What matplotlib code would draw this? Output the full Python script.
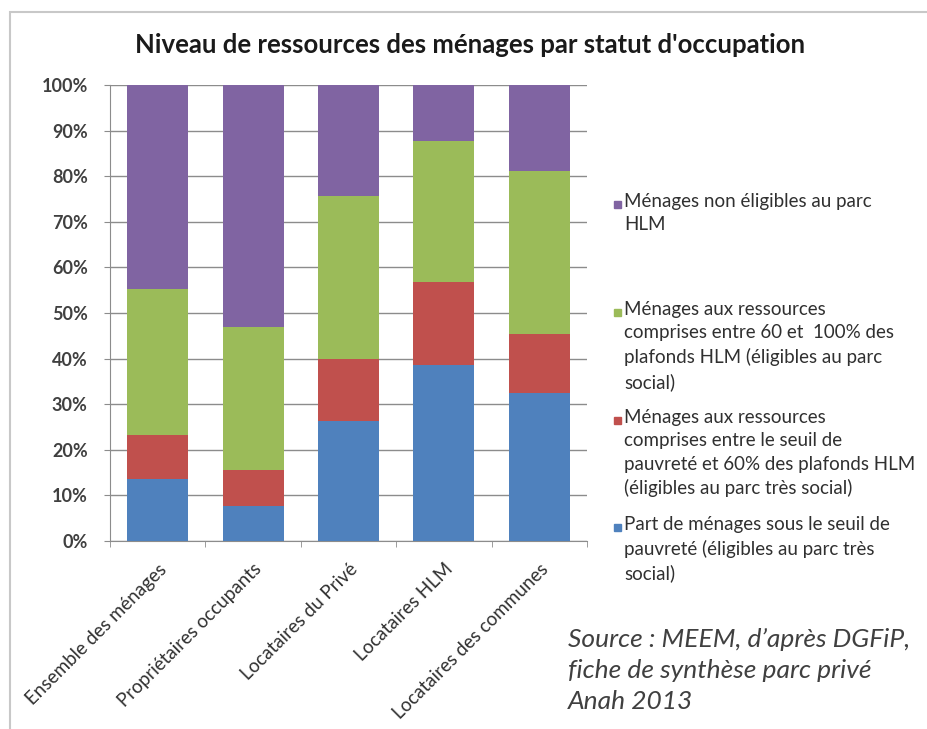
import matplotlib
matplotlib.use("Agg")
import matplotlib.pyplot as plt
import matplotlib.patches as patches
import numpy as np

plt.rcParams['font.family'] = ['Lato', 'DejaVu Sans']

# data (shares in %)
categories = ["Ensemble des ménages", "Propriétaires occupants", "Locataires du Privé",
              "Locataires HLM", "Locataires des communes"]
sous_seuil = [13.5, 7.7, 26.3, 38.6, 32.5]
seuil_60 = [9.8, 7.8, 13.7, 18.2, 12.8]
entre_60_100 = [31.9, 31.5, 35.7, 30.9, 35.8]
non_eligibles = [44.8, 53.0, 24.3, 12.3, 18.9]

series_labels = [
    "Part de ménages sous le seuil de\npauvreté (éligibles au parc très\nsocial)",
    "Ménages aux ressources\ncomprises entre le seuil de\npauvreté et 60% des plafonds HLM\n(éligibles au parc très social)",
    "Ménages aux ressources\ncomprises entre 60 et  100% des\nplafonds HLM (éligibles au parc\nsocial)",
    "Ménages non éligibles au parc\nHLM",
]
colors = ["#4F81BD", "#C0504D", "#9BBB59", "#8064A2"]

W, H = 928, 729
fig = plt.figure(figsize=(W / 100, H / 100), dpi=100)
fig.patch.set_facecolor("white")

# outer chart frame (clipped at right and bottom like the screenshot)
fig.add_artist(patches.Rectangle((10 / W, -0.05), 1.1, 1 - 12 / H + 0.05,
                                 transform=fig.transFigure, fill=False,
                                 edgecolor="#C8C8C8", lw=1.5))

ax = fig.add_axes([110 / W, 1 - 541 / H, 477 / W, 456 / H])

x = np.arange(len(categories))
bottom = np.zeros(len(categories))
for vals, col in zip([sous_seuil, seuil_60, entre_60_100, non_eligibles], colors):
    ax.bar(x, vals, bottom=bottom, width=0.64, color=col, zorder=3)
    bottom += np.array(vals)

ax.set_xlim(-0.5, len(categories) - 0.5)
ax.set_ylim(0, 100)
ax.set_yticks(np.arange(0, 101, 10))
ax.set_yticklabels([f"{v}%" for v in range(0, 101, 10)], fontsize=13,
                   fontweight="bold", color="#404040")
ax.yaxis.grid(True, color="#8C8C8C", lw=1, zorder=0)
ax.tick_params(axis="y", length=4, color="#8C8C8C", pad=12)

ax.set_xticks(x)
ax.set_xticklabels(categories, rotation=45, ha="right", rotation_mode="anchor",
                   fontsize=13.5, color="#303030")
ax.tick_params(axis="x", length=0, pad=14)
ax.set_xticks(np.arange(-0.5, len(categories), 1), minor=True)
ax.tick_params(axis="x", which="minor", length=4, color="#8C8C8C")

for side in ["top", "right"]:
    ax.spines[side].set_visible(False)
for side in ["left", "bottom"]:
    ax.spines[side].set_color("#8C8C8C")

fig.text(470 / W, 1 - 45 / H, "Niveau de ressources des ménages par statut d'occupation",
         ha="center", va="center", fontsize=18.5, fontweight="bold", color="#1A1A1A")

# legend, top entry first (as in the reference)
legend_tops = [204, 312, 420, 527]
for lab, col, ytop in zip(series_labels[::-1], colors[::-1], legend_tops):
    fig.add_artist(patches.Rectangle((614 / W, 1 - (ytop + 4) / H), 7 / W, 7 / H,
                                     transform=fig.transFigure, color=col))
    fig.text(624 / W, 1 - (ytop - 11) / H, lab, ha="left", va="top",
             fontsize=13.5, color="#303030", linespacing=1.45)

fig.text(568 / W, 1 - 628 / H, "Source : MEEM, d’après DGFiP,\nfiche de synthèse parc privé\nAnah 2013",
         ha="left", va="top", fontsize=19, style="italic", color="#404040",
         linespacing=1.42)

fig.savefig("out.png", dpi=100, facecolor="white")
